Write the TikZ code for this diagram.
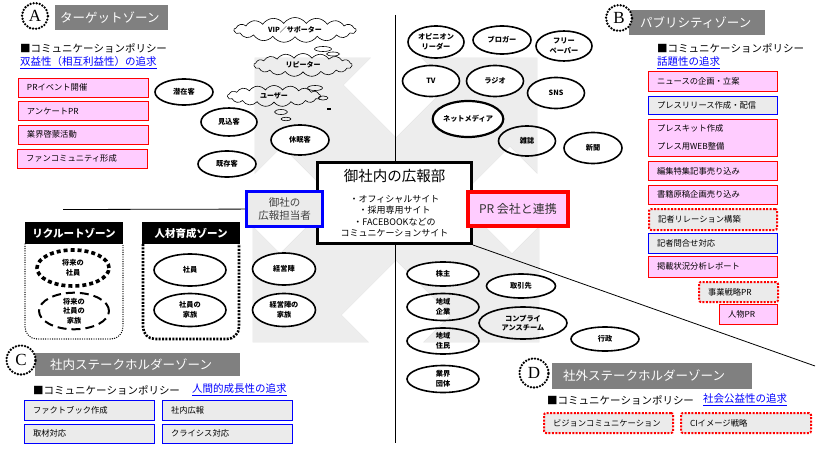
\documentclass[tikz,border=0pt]{standalone}
\usepackage{fontspec}
\setmainfont{Noto Sans CJK JP}
\newfontfamily\latinserif{Liberation Serif}
\usetikzlibrary{shapes.geometric,shapes.symbols}

\definecolor{pinkfill}{HTML}{FFCCFF}
\definecolor{boxgray}{HTML}{EBEBEB}
\definecolor{headgray}{HTML}{808080}
\definecolor{xgray}{HTML}{EDEDED}

\tikzset{
  ell/.style={ellipse, draw, line width=1.6pt, fill=white, inner sep=0pt, align=center,
    font=\fontsize{7.2}{9.5}\selectfont\bfseries},
  ellopen/.style={ell, fill=none},
  cloudy/.style={cloud, draw, line width=0.6pt, cloud puffs=17, cloud puff arc=110, cloud ignores aspect,
    inner sep=0pt, font=\fontsize{7}{9}\selectfont\bfseries},
  bubble/.style={ellipse, draw, line width=0.6pt, inner sep=0pt},
  pinkbox/.style={rectangle, draw=red, line width=0.9pt, fill=pinkfill, minimum height=19pt,
    inner xsep=9pt, inner ysep=0pt, align=left, text width=#1, font=\fontsize{8.3}{10}\selectfont},
  bluebox/.style={pinkbox=#1, draw=blue, fill=boxgray},
  reddotbox/.style={pinkbox=#1, fill=boxgray, line width=2pt, dash pattern=on 2pt off 1.4pt,
    rounded corners=2pt},
  zonehead/.style={rectangle, fill=headgray, text=white, anchor=west, inner ysep=0pt, align=left,
    font=\fontsize{12.5}{14}\selectfont},
  zonemark/.style={circle, draw, fill=white, line width=2.6pt, dash pattern=on 0pt off 3.1pt,
    line cap=round, minimum size=26pt, inner sep=0pt, font=\latinserif\fontsize{17}{17}\selectfont},
  policy/.style={anchor=west, inner sep=0pt, font=\fontsize{10.5}{12}\selectfont},
  goal/.style={policy, text=blue},
  blackhead/.style={rectangle, fill=black, text=white, minimum width=98pt, minimum height=22pt,
    inner sep=0pt, font=\fontsize{10.5}{12}\selectfont\bfseries},
  divider/.style={line width=0.8pt},
}

\begin{document}
\begin{tikzpicture}[x=1pt, y=-1pt]
\useasboundingbox (0,0) rectangle (816,452);

% big gray X behind
\foreach \cx/\cy/\sx/\sy in {255/58/1/1, 537/58/-1/1, 253/342/1/-1, 539/342/-1/-1}
  \draw[gray!22, line width=0.9pt, shift={(\cx,\cy)}, xscale=\sx, yscale=\sy]
    (0,0) -- (115,0) -- (88,27) -- (198,137) -- (137,198) -- (27,88) -- (0,115) -- cycle;
\foreach \cx/\cy/\sx/\sy in {255/58/1/1, 537/58/-1/1, 253/342/1/-1, 539/342/-1/-1}
  \fill[xgray, shift={(\cx,\cy)}, xscale=\sx, yscale=\sy]
    (0,0) -- (115,0) -- (88,27) -- (198,137) -- (137,198) -- (27,88) -- (0,115) -- cycle;

\coordinate (vtop) at (395,15);
\coordinate (vbot) at (395,443);
\coordinate (hleft) at (63,209.5);
\coordinate (dend) at (815,366);
\draw[divider] (vtop) -- (vbot);

% A target zone
\node[zonehead, inner xsep=5pt, text width=103pt, minimum height=25pt] (headA) at (55,17.5) {ターゲットゾーン};
\node[zonemark] (markA) at (35,16) {A};
\node[policy] (polA) at (20,48) {■コミュニケーションポリシー};
\node[goal] (goalA) at (20,63) {\underline{双益性（相互利益性）の追求}};
\node[pinkbox=112pt] (a1) at (83,87.5) {PRイベント開催};
\node[pinkbox=112pt] (a2) at (83,111) {アンケートPR};
\node[pinkbox=112pt] (a3) at (83,134.5) {業界啓蒙活動};
\node[pinkbox=112pt] (a4) at (82,158.5) {ファンコミュニティ形成};

\node[cloudy, minimum width=122pt, minimum height=25pt] (vip) at (295,30) {VIP／サポーター};
\node[cloudy, minimum width=98pt, minimum height=23pt] (repeater) at (303,65) {リピーター};
\node[cloudy, minimum width=93pt, minimum height=21pt] (user) at (274,96) {ユーザー};
\node[bubble, minimum width=17pt, minimum height=5pt] (bub1) at (323,49) {};
\node[bubble, minimum width=13pt, minimum height=4pt] (bub2) at (333,54) {};
\node[bubble, minimum width=15pt, minimum height=5pt] (bub3) at (315,88) {};
\node[bubble, minimum width=10pt, minimum height=4pt] (bub4) at (323,98) {};
\node[bubble, minimum width=13pt, minimum height=5pt] (bub5) at (281,112) {};
\node[bubble, minimum width=10pt, minimum height=3.5pt] (bub6) at (286,119) {};
\fill (327,107.5) rectangle (331,109.5);

\node[ell, minimum width=58pt, minimum height=26pt] (latent) at (184,92) {潜在客};
\node[ell, minimum width=56pt, minimum height=28pt] (prospect) at (229,122) {見込客};
\node[ell, minimum width=58pt, minimum height=26pt] (existing) at (227,164) {既存客};
\node[ell, minimum width=58pt, minimum height=30pt] (dormant) at (300,140) {休眠客};

% B publicity zone
\node[zonehead, inner xsep=11pt, text width=114pt, minimum height=25pt] (headB) at (629,22.5) {パブリシティゾーン};
\node[zonemark] (markB) at (619,18) {B};
\node[policy] (polB) at (657,48) {■コミュニケーションポリシー};
\node[goal] (goalB) at (657,63) {\underline{話題性の追求}};
\node[pinkbox=111pt, minimum height=20pt] (b1) at (712.5,81) {ニュースの企画・立案};
\node[bluebox=111pt, minimum height=18pt] (b2) at (712.5,105) {プレスリリース作成・配信};
\node[pinkbox=111pt, minimum height=37pt, font=\fontsize{8.3}{18}\selectfont] (b3) at (712.5,137.5) {プレスキット作成\\プレス用WEB整備};
\node[pinkbox=111pt] (b4) at (712.5,171) {編集特集記事売り込み};
\node[pinkbox=111pt] (b5) at (712.5,194.5) {書籍原稿企画売り込み};
\node[reddotbox=110pt, minimum height=21pt] (b6) at (713,219.5) {記者リレーション構築};
\node[bluebox=111pt, minimum height=20pt] (b7) at (712.5,243) {記者問合せ対応};
\node[pinkbox=111pt, minimum height=21pt] (b8) at (712.5,266.5) {掲載状況分析レポート};
\node[reddotbox=61pt, minimum height=20pt] (b9) at (738.5,292) {事業戦略PR};
\node[pinkbox=40pt, minimum height=20pt] (b10) at (748,314) {人物PR};

\node[ell, minimum width=56pt, minimum height=32pt] (opinion) at (436,42) {オピニオン\\リーダー};
\node[ell, minimum width=58pt, minimum height=28pt] (blogger) at (502,40) {ブロガー};
\node[ell, minimum width=56pt, minimum height=30pt] (freepaper) at (564,46) {フリー\\ペーパー};
\node[ell, minimum width=57pt, minimum height=31pt] (tv) at (431,81) {TV};
\node[ell, minimum width=57pt, minimum height=31pt] (radio) at (495,81) {ラジオ};
\node[ell, minimum width=57pt, minimum height=31pt] (sns) at (556,93) {SNS};
\node[ell, line width=2.2pt, minimum width=68pt, minimum height=36pt] (netmedia) at (468,119) {ネットメディア};
\node[ellopen, minimum width=57pt, minimum height=30pt] (magazine) at (527,141) {雑誌};
\node[ell, minimum width=58pt, minimum height=31pt] (newspaper) at (593,148) {新聞};

% recruit / talent zones
\node[blackhead] (recruit) at (74,233) {リクルートゾーン};
\node[blackhead] (talent) at (191,233) {人材育成ゾーン};
\draw[line width=1.4pt, dash pattern=on 0pt off 2.3pt, line cap=round, rounded corners=12pt]
  (25,244) -- (25,339) -- (123,339) -- (123,244);
\draw[line width=2.6pt, dash pattern=on 2pt off 1.4pt, rounded corners=12pt]
  (143,244) -- (143,339) -- (239,339) -- (239,244);
\node[ell, fill=none, line width=3.6pt, dash pattern=on 4pt off 3pt, minimum width=72pt, minimum height=36pt] (futstaff) at (73,268) {将来の\\社員};
\node[ell, fill=none, line width=2pt, dash pattern=on 9pt off 5pt, minimum width=70pt, minimum height=35pt] (futfam) at (74,311) {将来の\\社員の\\家族};
\node[ell, minimum width=72pt, minimum height=32pt] (staff) at (190,270) {社員};
\node[ell, minimum width=72pt, minimum height=33pt] (stafffam) at (190,310) {社員の\\家族};
\node[ell, minimum width=63pt, minimum height=32pt] (mgmt) at (284,269) {経営陣};
\node[ell, minimum width=63pt, minimum height=33pt] (mgmtfam) at (284,310) {経営陣の\\家族};

% external stakeholders
\node[ell, minimum width=72pt, minimum height=24pt] (holder) at (443,274) {株主};
\node[ell, minimum width=69pt, minimum height=24pt] (partner) at (521,286) {取引先};
\node[ellopen, minimum width=72pt, minimum height=27pt] (localfirm) at (443,307) {地域\\企業};
\node[ellopen, minimum width=88pt, minimum height=32pt] (compliance) at (523,323) {コンプライ\\アンスチーム};
\node[ellopen, minimum width=72pt, minimum height=26pt] (residents) at (443,341) {地域\\住民};
\node[ell, minimum width=68pt, minimum height=24pt] (government) at (605,339) {行政};
\node[ell, minimum width=72pt, minimum height=27pt] (industry) at (443,379) {業界\\団体};

% center
\node[draw, line width=3pt, fill=white, minimum width=154pt, minimum height=81pt, inner sep=0pt,
  align=center, font=\fontsize{9}{11.3}\selectfont] (hq) at (394.5,203)
  {{\fontsize{14.5}{16}\selectfont 御社内の広報部}\\[10pt]・オフィシャルサイト\\・採用専用サイト\\・FACEBOOKなどの\\コミュニケーションサイト};
\node[draw=blue, line width=3pt, fill=boxgray, minimum width=76pt, minimum height=35pt, inner sep=0pt,
  align=center, text=black!75, font=\fontsize{10.5}{12.5}\selectfont] (liaison) at (284.5,209) {御社の\\広報担当者};
\node[draw=red, line width=3.5pt, fill=pinkfill, minimum width=100pt, minimum height=34pt, inner sep=0pt,
  text=black!80, font=\fontsize{12}{14}\selectfont] (prfirm) at (518,209) {PR 会社と連携};
\draw[divider] (hleft) -- (liaison);
\draw[divider] (hq.south east) -- (dend);

% C internal stakeholders
\node[zonehead, inner xsep=15pt, text width=175pt, minimum height=23pt] (headC) at (35,364.5) {社内ステークホルダーゾーン};
\node[zonemark, minimum size=29pt] (markC) at (21,360) {C};
\node[policy] (polC) at (33,390) {■コミュニケーションポリシー};
\node[goal] (goalC) at (192,390) {\underline{人間的成長性の追求}};
\node[bluebox=112pt, minimum height=20pt] (c1) at (89,410) {ファクトブック作成};
\node[bluebox=112pt, minimum height=20pt] (c2) at (227,410) {社内広報};
\node[bluebox=112pt] (c3) at (89,433.5) {取材対応};
\node[bluebox=112pt] (c4) at (227,433.5) {クライシス対応};

% D external stakeholders
\node[zonehead, inner xsep=11pt, text width=178pt, minimum height=26pt] (headD) at (552,376) {社外ステークホルダーゾーン};
\node[zonemark, minimum size=29pt] (markD) at (534,373) {D};
\node[policy] (polD) at (547,400) {■コミュニケーションポリシー};
\node[goal] (goalD) at (703,400) {\underline{社会公益性の追求}};
\node[reddotbox=111pt, minimum height=20pt] (d1) at (608.5,423) {ビジョンコミュニケーション};
\node[reddotbox=112pt, minimum height=20pt] (d2) at (746,423) {CIイメージ戦略};
\end{tikzpicture}
\end{document}
